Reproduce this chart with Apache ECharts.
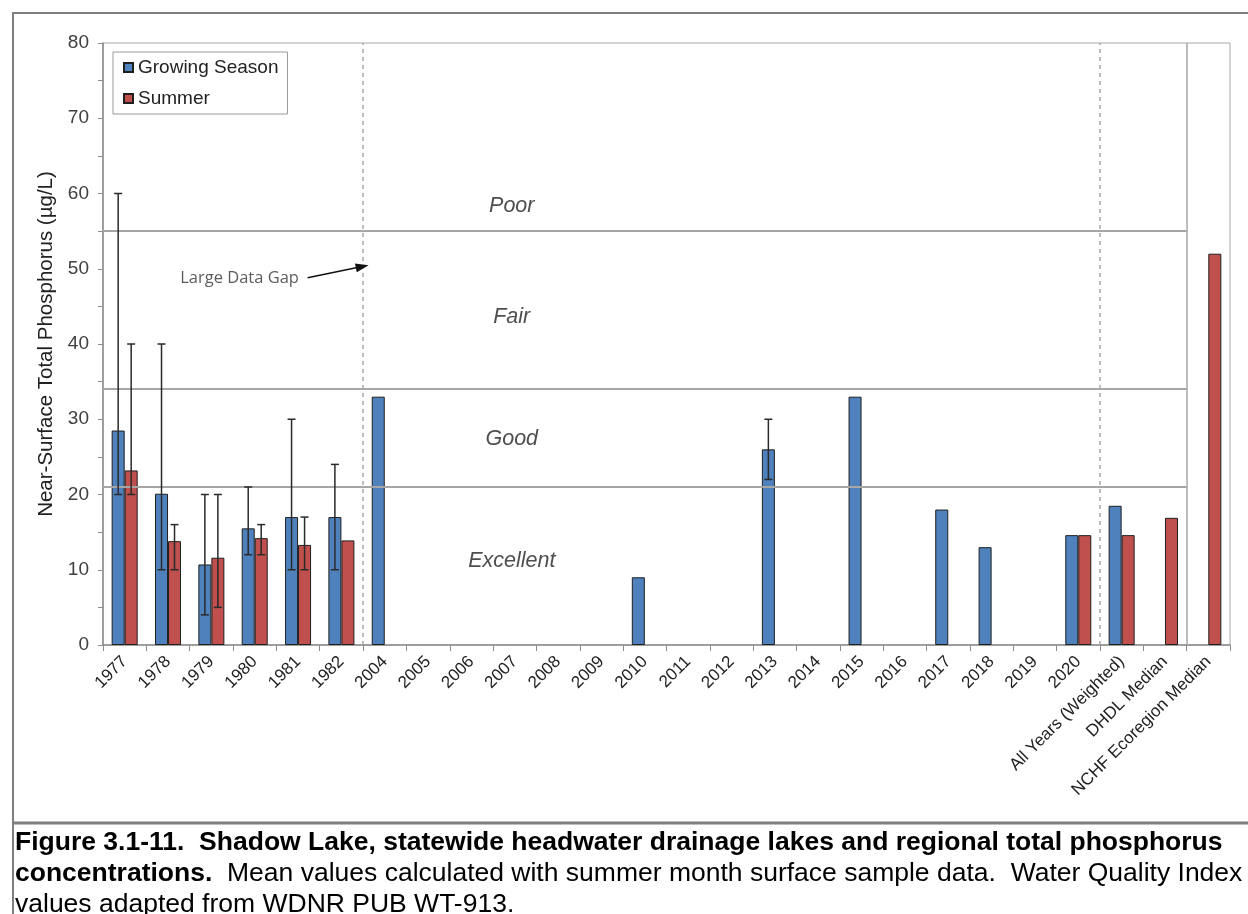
<!DOCTYPE html>
<html>
<head>
<meta charset="utf-8">
<script src="https://cdn.jsdelivr.net/npm/echarts@6/dist/echarts.min.js"></script>
<style>
  html, body { margin: 0; padding: 0; background: #fff; }
  #chart { width: 1248px; height: 914px; }
</style>
</head>
<body>
<div id="chart"></div>
<script>
// categories
var years = ['1977', '1978', '1979', '1980', '1981', '1982',
  '2004', '2005', '2006', '2007', '2008', '2009', '2010', '2011', '2012',
  '2013', '2014', '2015', '2016', '2017', '2018', '2019', '2020',
  'All Years (Weighted)', 'DHDL Median', 'NCHF Ecoregion Median'];

// growing season mean TP (ug/L), with low / high error values
var growing = [28.5, 20.1, 10.7, 15.5, 17, 17,
  33, null, null, null, null, null, 9, null, null,
  26, null, 33, null, 18, 13, null, 14.6,
  18.5, null, null];
var growingLow = [20, 10, 4, 12, 10, 10,
  null, null, null, null, null, null, null, null, null,
  22, null, null, null, null, null, null, null,
  null, null, null];
var growingHigh = [60, 40, 20, 21, 30, 24,
  null, null, null, null, null, null, null, null, null,
  30, null, null, null, null, null, null, null,
  null, null, null];

// summer mean TP (ug/L)
var summer = [23.2, 13.8, 11.6, 14.2, 13.3, 13.9,
  null, null, null, null, null, null, null, null, null,
  null, null, null, null, null, null, null, 14.6,
  14.6, 16.9, 52];
var summerLow = [20, 10, 5, 12, 10, null,
  null, null, null, null, null, null, null, null, null,
  null, null, null, null, null, null, null, null,
  null, null, null];
var summerHigh = [40, 16, 20, 16, 17, null,
  null, null, null, null, null, null, null, null, null,
  null, null, null, null, null, null, null, null,
  null, null, null];

// water quality index class limits and names
var wqiLimits = [21, 34, 55];
var wqiNames = ['Excellent', 'Good', 'Fair', 'Poor'];

var yTicks = [0, 10, 20, 30, 40, 50, 60, 70, 80];

var BLUE = '#4f81bd', RED = '#c0504d', EDGE = '#1f1f1f', GRIDC = '#a6a6a6';
var CAPFONT = '"Liberation Sans", Arial, sans-serif';

function errorBars(name, low, high, side) {
  var data = [];
  low.forEach(function (l, i) {
    if (l != null && high[i] != null) data.push([i, l, high[i]]);
  });
  return {
    name: name, type: 'custom', data: data, z: 5, silent: true,
    renderItem: function (params, api) {
      var band = api.size([1, 0])[0];
      var x = api.coord([api.value(0), 0])[0] + side * band * 0.15;
      var lo = api.coord([api.value(0), api.value(1)])[1];
      var hi = api.coord([api.value(0), api.value(2)])[1];
      var st = { stroke: '#2a2a2a', lineWidth: 1.5 };
      return {
        type: 'group',
        children: [
          { type: 'line', shape: { x1: x, y1: lo, x2: x, y2: hi }, style: st },
          { type: 'line', shape: { x1: x - 4, y1: lo, x2: x + 4, y2: lo }, style: st },
          { type: 'line', shape: { x1: x - 4, y1: hi, x2: x + 4, y2: hi }, style: st }
        ]
      };
    }
  };
}

var chart = echarts.init(document.getElementById('chart'));

var textLabels = [
  { value: [9.43, 11.1], name: wqiNames[0] },
  { value: [9.43, 27.4], name: wqiNames[1] },
  { value: [9.43, 43.6], name: wqiNames[2] },
  { value: [9.43, 58.3], name: wqiNames[3] }
];

var option = {
  animation: false,
  backgroundColor: '#fff',
  textStyle: { fontFamily: 'Liberation Sans, Arial, sans-serif' },
  grid: {
    left: 103, right: 18, top: 43, bottom: 269,
    show: true, borderColor: GRIDC, borderWidth: 1, backgroundColor: 'transparent'
  },
  legend: {
    data: ['Growing Season', 'Summer'],
    orient: 'vertical', left: 113, top: 52,
    backgroundColor: '#fff', borderColor: '#999', borderWidth: 1,
    padding: [6, 9, 6, 10], itemGap: 12,
    itemWidth: 9, itemHeight: 9, icon: 'rect',
    textStyle: { fontSize: 19, color: '#222' }
  },
  xAxis: [{
    type: 'category', data: years,
    axisLine: { lineStyle: { color: '#8c8c8c', width: 1.5 } },
    axisTick: { show: true, length: 6, interval: 0, lineStyle: { color: '#8c8c8c' } },
    axisLabel: { interval: 0, rotate: 45, fontSize: 17, color: '#222', margin: 14 },
    splitLine: { show: false }
  }, {
    type: 'value', min: 0, max: 26, show: false
  }],
  yAxis: {
    type: 'value', min: yTicks[0], max: yTicks[yTicks.length - 1], interval: 10,
    name: 'Near-Surface Total Phosphorus (µg/L)',
    nameLocation: 'middle', nameGap: 45,
    nameTextStyle: { fontSize: 20.5, color: '#222' },
    axisLine: { show: true, lineStyle: { color: '#8c8c8c', width: 1.5 } },
    axisTick: { show: true, length: 5, lineStyle: { color: '#8c8c8c' } },
    minorTick: { show: true, splitNumber: 2, length: 5, lineStyle: { color: '#8c8c8c' } },
    axisLabel: { fontSize: 19, color: '#404040', margin: 14 },
    splitLine: { show: false }
  },
  series: [
    {
      name: 'Growing Season', type: 'bar', data: growing,
      barGap: '0%', barCategoryGap: '40%', z: 3,
      itemStyle: { color: BLUE, borderColor: EDGE, borderWidth: 1 }
    },
    {
      name: 'Summer', type: 'bar', data: summer, z: 3,
      itemStyle: { color: RED, borderColor: EDGE, borderWidth: 1 }
    },
    errorBars('gsErr', growingLow, growingHigh, -1),
    errorBars('suErr', summerLow, summerHigh, 1),
    {
      // reference lines, class labels and note on a hidden value axis
      name: 'refs', type: 'scatter', xAxisIndex: 1, yAxisIndex: 0,
      symbolSize: 0, silent: true, z: 1,
      data: textLabels,
      label: {
        show: true, position: 'inside', formatter: '{b}',
        fontSize: 21.5, fontStyle: 'italic', color: '#222'
      },
      markLine: {
        silent: true, symbol: 'none', animation: false,
        label: { show: false },
        data: wqiLimits.map(function (v) {
          return [{ coord: [0, v], lineStyle: { color: GRIDC, width: 2, type: 'solid' } },
                  { coord: [25, v] }];
        }).concat([
          [{ coord: [6, 0], lineStyle: { color: GRIDC, width: 1.5, type: [4, 4] } }, { coord: [6, 80] }],
          [{ coord: [23, 0], lineStyle: { color: GRIDC, width: 1.5, type: [4, 4] } }, { coord: [23, 80] }],
          [{ coord: [25, 0], lineStyle: { color: GRIDC, width: 1.5, type: 'solid' } }, { coord: [25, 80] }],
          [{ coord: [4.72, 48.8], symbol: 'none', lineStyle: { color: '#111', width: 1.5, type: 'solid' } },
           { coord: [5.98, 50.3], symbol: 'triangle', symbolSize: [9, 13] }]
        ])
      }
    },
    {
      name: 'note', type: 'scatter', xAxisIndex: 1, yAxisIndex: 0,
      symbolSize: 0, silent: true, z: 1,
      data: [{ value: [3.15, 48.7], name: 'Large Data Gap' }],
      label: {
        show: true, position: 'inside', formatter: '{b}',
        fontSize: 16.5, color: '#333', fontFamily: 'Open Sans'
      }
    }
  ],
  graphic: [
    { type: 'rect', shape: { x: 13, y: 13, width: 1250, height: 920 }, silent: true,
      style: { fill: 'none', stroke: '#7f7f7f', lineWidth: 2 } },
    { type: 'line', shape: { x1: 13, y1: 823, x2: 1248, y2: 823 }, silent: true,
      style: { stroke: '#7f7f7f', lineWidth: 3 } },
    { type: 'text', left: 15, top: 829, silent: true,
      style: { text: 'Figure 3.1-11.  Shadow Lake, statewide headwater drainage lakes and regional total phosphorus',
        font: 'bold 26.5px ' + CAPFONT, fill: '#000' } },
    { type: 'text', left: 15, top: 860, silent: true,
      style: {
        text: '{b|concentrations.}  Mean values calculated with summer month surface sample data.  Water Quality Index',
        font: '26.5px ' + CAPFONT, fill: '#000',
        rich: { b: { font: 'bold 26.5px ' + CAPFONT, fill: '#000' } }
      } },
    { type: 'text', left: 15, top: 891, silent: true,
      style: { text: 'values adapted from WDNR PUB WT-913.',
        font: '26.5px ' + CAPFONT, fill: '#000' } }
  ]
};

chart.setOption(option);
</script>
</body>
</html>
